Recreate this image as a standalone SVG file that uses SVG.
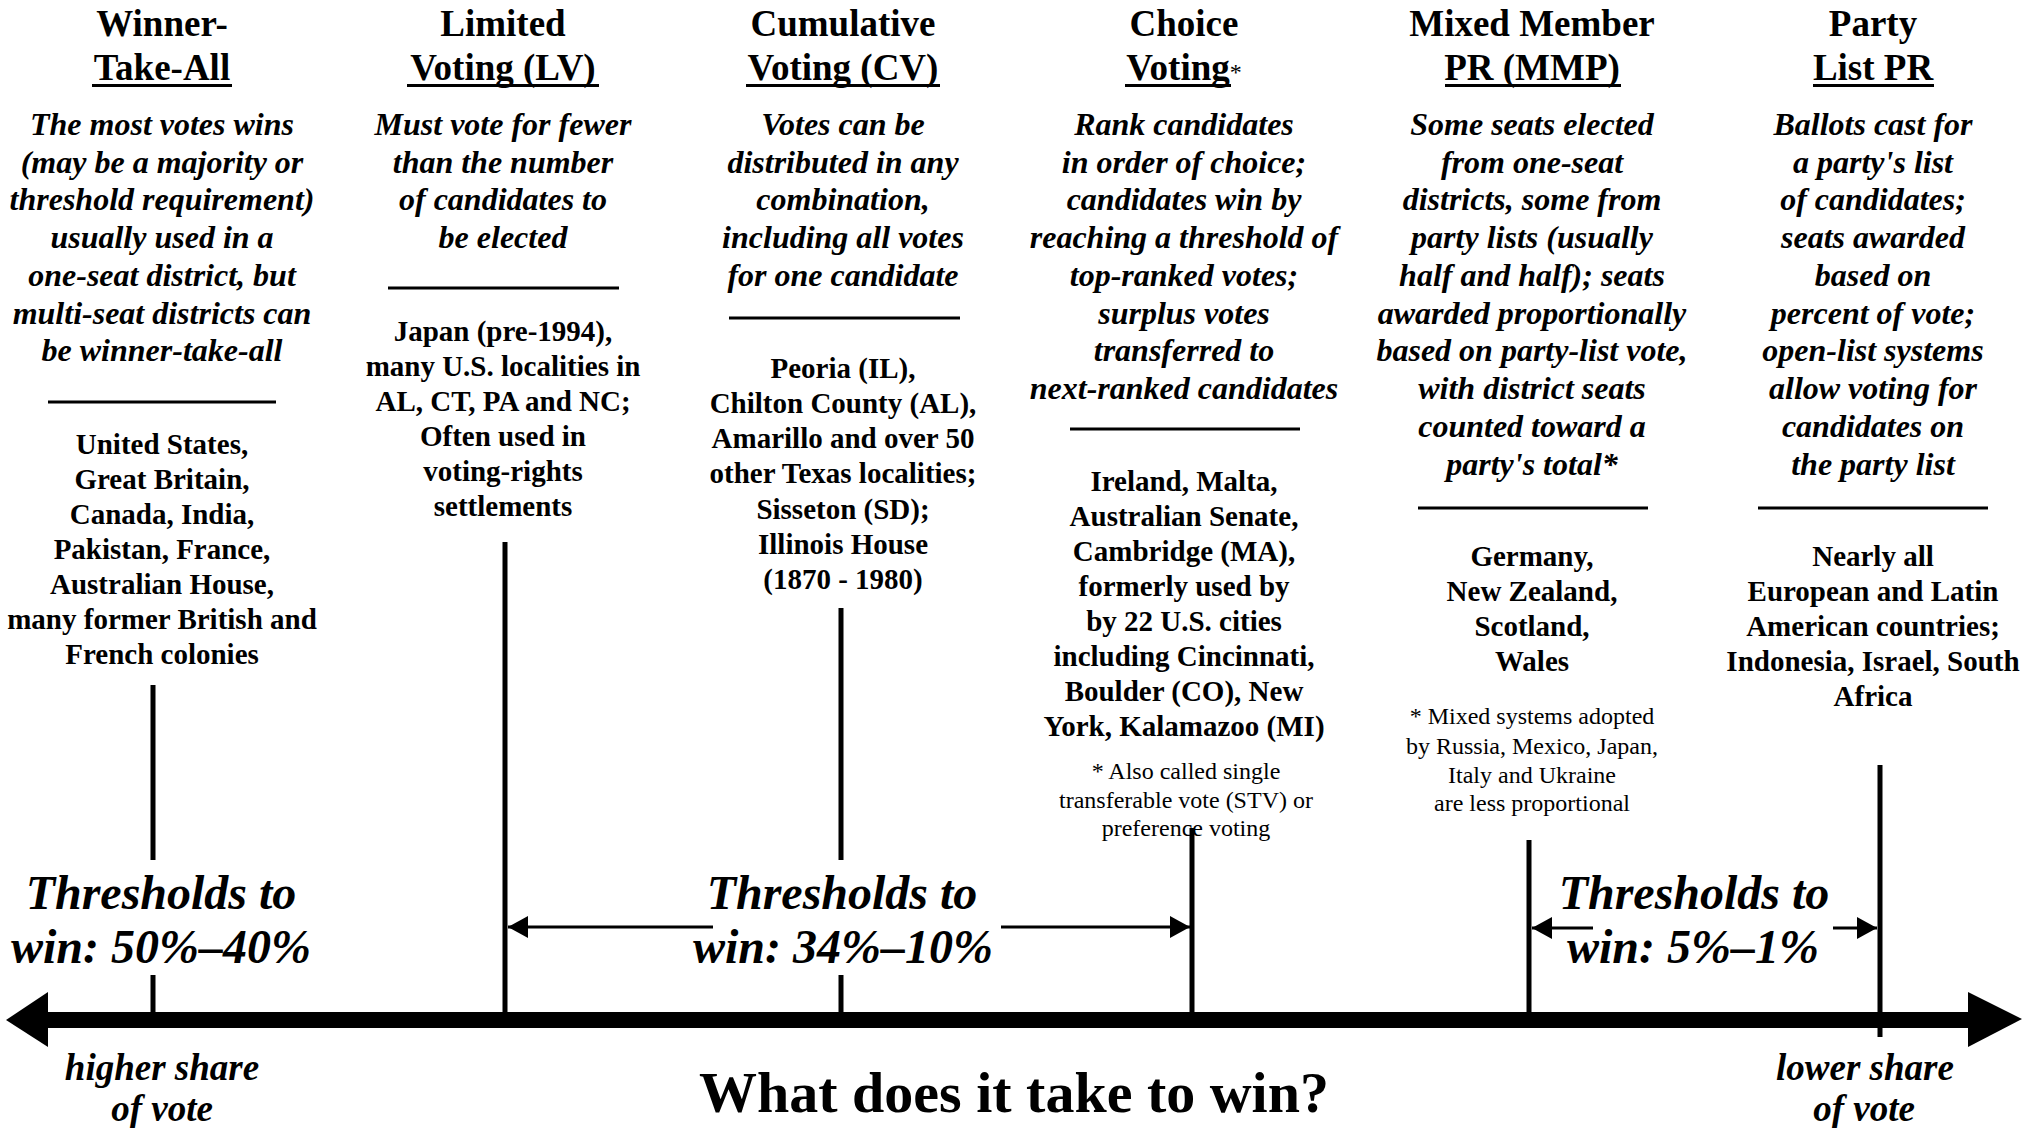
<svg xmlns="http://www.w3.org/2000/svg" width="2034" height="1128" viewBox="0 0 2034 1128">
<style>
text{font-family:"Liberation Serif","Times New Roman",serif;fill:#000;text-anchor:middle}
.t{font-size:37px;font-weight:bold}
.d{font-size:32px;font-weight:bold;font-style:italic}
.c{font-size:29px;font-weight:bold}
.f{font-size:24px}
.th{font-size:48px;font-weight:bold;font-style:italic}
.q{font-size:37px;font-weight:bold;font-style:italic}
.big{font-size:58px;font-weight:bold}
.ul{fill:#000}
.sep{stroke:#000;stroke-width:3}
.v{stroke:#000;stroke-width:5}
.ar{stroke:#000;stroke-width:3;marker-end:url(#ah)}
</style>
<defs>
<marker id="ah" markerUnits="userSpaceOnUse" markerWidth="20" markerHeight="22" refX="20" refY="11" orient="auto"><path d="M0,0 L20,11 L0,22 z" fill="#000"/></marker>
</defs>
<rect width="2034" height="1128" fill="#fff"/>

<g id="winner-take-all">
<text class="t" x="162" y="36">Winner-</text>
<text class="t" x="162" y="80">Take-All</text>
<rect class="ul" x="92" y="84" width="140" height="3"/>
<text class="d" x="162" y="135">The most votes wins</text>
<text class="d" x="162" y="173">(may be a majority or</text>
<text class="d" x="162" y="210">threshold requirement)</text>
<text class="d" x="162" y="248">usually used in a</text>
<text class="d" x="162" y="286">one-seat district, but</text>
<text class="d" x="162" y="324">multi-seat districts can</text>
<text class="d" x="162" y="361">be winner-take-all</text>
<line class="sep" x1="48" y1="402" x2="276" y2="402"/>
<text class="c" x="162" y="454">United States,</text>
<text class="c" x="162" y="489">Great Britain,</text>
<text class="c" x="162" y="524">Canada, India,</text>
<text class="c" x="162" y="559">Pakistan, France,</text>
<text class="c" x="162" y="594">Australian House,</text>
<text class="c" x="162" y="629">many former British and</text>
<text class="c" x="162" y="664">French colonies</text>
</g>

<g id="limited-voting">
<text class="t" x="503" y="36">Limited</text>
<text class="t" x="503" y="80">Voting (LV)</text>
<rect class="ul" x="407" y="84" width="192" height="3"/>
<text class="d" x="503" y="135">Must vote for fewer</text>
<text class="d" x="503" y="173">than the number</text>
<text class="d" x="503" y="210">of candidates to</text>
<text class="d" x="503" y="248">be elected</text>
<line class="sep" x1="388" y1="288" x2="619" y2="288"/>
<text class="c" x="503" y="341">Japan (pre-1994),</text>
<text class="c" x="503" y="376">many U.S. localities in</text>
<text class="c" x="503" y="411">AL, CT, PA and NC;</text>
<text class="c" x="503" y="446">Often used in</text>
<text class="c" x="503" y="481">voting-rights</text>
<text class="c" x="503" y="516">settlements</text>
</g>

<g id="cumulative-voting">
<text class="t" x="843" y="36">Cumulative</text>
<text class="t" x="843" y="80">Voting (CV)</text>
<rect class="ul" x="746" y="84" width="194" height="3"/>
<text class="d" x="843" y="135">Votes can be</text>
<text class="d" x="843" y="173">distributed in any</text>
<text class="d" x="843" y="210">combination,</text>
<text class="d" x="843" y="248">including all votes</text>
<text class="d" x="843" y="286">for one candidate</text>
<line class="sep" x1="729" y1="318" x2="960" y2="318"/>
<text class="c" x="843" y="378">Peoria (IL),</text>
<text class="c" x="843" y="413">Chilton County (AL),</text>
<text class="c" x="843" y="448">Amarillo and over 50</text>
<text class="c" x="843" y="483">other Texas localities;</text>
<text class="c" x="843" y="519">Sisseton (SD);</text>
<text class="c" x="843" y="554">Illinois House</text>
<text class="c" x="843" y="589">(1870 - 1980)</text>
</g>

<g id="choice-voting">
<text class="t" x="1184" y="36">Choice</text>
<text class="t" x="1184" y="80">Voting<tspan class="f" font-weight="normal">*</tspan></text>
<rect class="ul" x="1125" y="84" width="106" height="3"/>
<text class="d" x="1184" y="135">Rank candidates</text>
<text class="d" x="1184" y="173">in order of choice;</text>
<text class="d" x="1184" y="210">candidates win by</text>
<text class="d" x="1184" y="248">reaching a threshold of</text>
<text class="d" x="1184" y="286">top-ranked votes;</text>
<text class="d" x="1184" y="324">surplus votes</text>
<text class="d" x="1184" y="361">transferred to</text>
<text class="d" x="1184" y="399">next-ranked candidates</text>
<line class="sep" x1="1070" y1="429" x2="1300" y2="429"/>
<text class="c" x="1184" y="491">Ireland, Malta,</text>
<text class="c" x="1184" y="526">Australian Senate,</text>
<text class="c" x="1184" y="561">Cambridge (MA),</text>
<text class="c" x="1184" y="596">formerly used by</text>
<text class="c" x="1184" y="631">by 22 U.S. cities</text>
<text class="c" x="1184" y="666">including Cincinnati,</text>
<text class="c" x="1184" y="701">Boulder (CO), New</text>
<text class="c" x="1184" y="736">York, Kalamazoo (MI)</text>
<text class="f" x="1186" y="779">* Also called single</text>
<text class="f" x="1186" y="808">transferable vote (STV) or</text>
<text class="f" x="1186" y="836">preference voting</text>
</g>

<g id="mixed-member-pr">
<text class="t" x="1532" y="36">Mixed Member</text>
<text class="t" x="1532" y="80">PR (MMP)</text>
<rect class="ul" x="1445" y="84" width="176" height="3"/>
<text class="d" x="1532" y="135">Some seats elected</text>
<text class="d" x="1532" y="173">from one-seat</text>
<text class="d" x="1532" y="210">districts, some from</text>
<text class="d" x="1532" y="248">party lists (usually</text>
<text class="d" x="1532" y="286">half and half); seats</text>
<text class="d" x="1532" y="324">awarded proportionally</text>
<text class="d" x="1532" y="361">based on party-list vote,</text>
<text class="d" x="1532" y="399">with district seats</text>
<text class="d" x="1532" y="437">counted toward a</text>
<text class="d" x="1532" y="475">party's total*</text>
<line class="sep" x1="1418" y1="508" x2="1648" y2="508"/>
<text class="c" x="1532" y="566">Germany,</text>
<text class="c" x="1532" y="601">New Zealand,</text>
<text class="c" x="1532" y="636">Scotland,</text>
<text class="c" x="1532" y="671">Wales</text>
<text class="f" x="1532" y="724">* Mixed systems adopted</text>
<text class="f" x="1532" y="754">by Russia, Mexico, Japan,</text>
<text class="f" x="1532" y="783">Italy and Ukraine</text>
<text class="f" x="1532" y="811">are less proportional</text>
</g>

<g id="party-list-pr">
<text class="t" x="1873" y="36">Party</text>
<text class="t" x="1873" y="80">List PR</text>
<rect class="ul" x="1813" y="84" width="121" height="3"/>
<text class="d" x="1873" y="135">Ballots cast for</text>
<text class="d" x="1873" y="173">a party's list</text>
<text class="d" x="1873" y="210">of candidates;</text>
<text class="d" x="1873" y="248">seats awarded</text>
<text class="d" x="1873" y="286">based on</text>
<text class="d" x="1873" y="324">percent of vote;</text>
<text class="d" x="1873" y="361">open-list systems</text>
<text class="d" x="1873" y="399">allow voting for</text>
<text class="d" x="1873" y="437">candidates on</text>
<text class="d" x="1873" y="475">the party list</text>
<line class="sep" x1="1758" y1="508" x2="1988" y2="508"/>
<text class="c" x="1873" y="566">Nearly all</text>
<text class="c" x="1873" y="601">European and Latin</text>
<text class="c" x="1873" y="636">American countries;</text>
<text class="c" x="1873" y="671">Indonesia, Israel, South</text>
<text class="c" x="1873" y="706">Africa</text>
</g>

<g id="connectors">
<line class="v" x1="153" y1="685" x2="153" y2="860"/>
<line class="v" x1="153" y1="975" x2="153" y2="1014"/>
<line class="v" x1="505" y1="542" x2="505" y2="1014"/>
<line class="v" x1="841" y1="608" x2="841" y2="860"/>
<line class="v" x1="841" y1="975" x2="841" y2="1014"/>
<line class="v" x1="1192" y1="828" x2="1192" y2="1014"/>
<line class="v" x1="1529" y1="840" x2="1529" y2="1014"/>
<line class="v" x1="1880" y1="765" x2="1880" y2="1037"/>
<line class="ar" x1="713" y1="927" x2="508" y2="927"/>
<line class="ar" x1="1001" y1="927" x2="1190" y2="927"/>
<line class="ar" x1="1593" y1="928" x2="1532" y2="928"/>
<line class="ar" x1="1833" y1="928" x2="1877" y2="928"/>
<rect x="40" y="1012" width="1935" height="16" fill="#000"/>
<polygon points="6,1020 48,992 48,1047" fill="#000"/>
<polygon points="2022,1019 1968,992 1968,1047" fill="#000"/>
</g>

<g id="thresholds">
<text class="th" x="161" y="909">Thresholds to</text>
<text class="th" x="161" y="963">win: 50%–40%</text>
<text class="th" x="842" y="909">Thresholds to</text>
<text class="th" x="843" y="963">win: 34%–10%</text>
<text class="th" x="1694" y="909">Thresholds to</text>
<text class="th" x="1693" y="963">win: 5%–1%</text>
</g>

<g id="axis-labels">
<text class="q" x="162" y="1080">higher share</text>
<text class="q" x="162" y="1121">of vote</text>
<text class="big" x="1014" y="1112">What does it take to win?</text>
<text class="q" x="1865" y="1080">lower share</text>
<text class="q" x="1864" y="1121">of vote</text>
</g>
</svg>
